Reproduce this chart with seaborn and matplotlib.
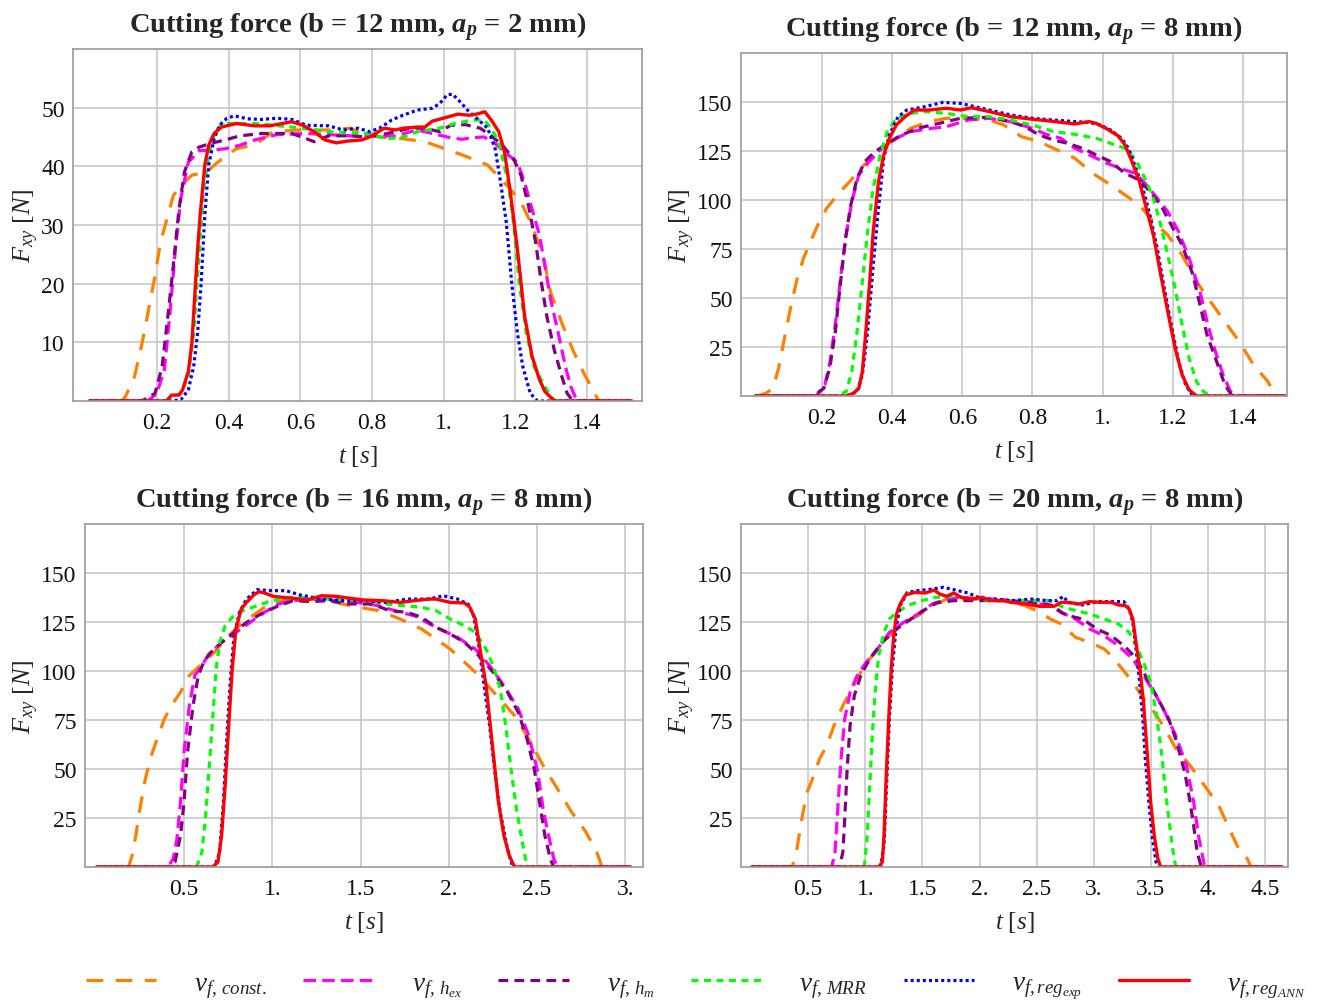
import matplotlib
matplotlib.use("Agg")
import matplotlib.pyplot as plt
import seaborn as sns
import pandas as pd

# ---------------- data: cutting force F_xy [N] vs time t [s] ----------------
# Panel 1: b = 12 mm, a_p = 2 mm
p1_const_t = [0.010, 0.101, 0.111, 0.137, 0.158, 0.178, 0.194, 0.209, 0.230, 0.245, 0.266, 0.297, 0.338, 0.369, 0.421, 0.473, 0.524, 0.596, 0.679, 0.741, 0.782, 0.824, 0.886, 0.948, 0.989, 1.040, 1.092, 1.123, 1.154, 1.185, 1.216, 1.247, 1.278, 1.299, 1.330, 1.361, 1.392, 1.417, 1.433, 1.526]
p1_const_F = [0, 0, 0.7, 4.2, 9.9, 16.2, 21.3, 27.0, 31.6, 35.0, 36.7, 38.5, 39.0, 40.7, 43.0, 43.7, 45.9, 46.2, 46.2, 46.5, 45.2, 45.0, 44.7, 44.2, 43.3, 42.2, 41.0, 40.2, 38.2, 36.2, 33.9, 29.9, 24.7, 18.5, 13.3, 8.7, 4.7, 1.9, 0, 0]
p1_hex_t = [0.010, 0.168, 0.178, 0.199, 0.220, 0.235, 0.251, 0.266, 0.287, 0.318, 0.349, 0.390, 0.431, 0.473, 0.535, 0.617, 0.679, 0.741, 0.803, 0.865, 0.927, 0.968, 1.010, 1.051, 1.082, 1.113, 1.144, 1.175, 1.206, 1.226, 1.247, 1.268, 1.283, 1.299, 1.320, 1.340, 1.355, 1.371, 1.381, 1.526]
p1_hex_F = [0, 0, 0.2, 1.3, 5.3, 14.5, 25.9, 34.5, 40.7, 42.7, 42.7, 43.0, 43.6, 44.5, 45.4, 45.6, 45.4, 45.2, 45.2, 45.2, 46.2, 45.6, 45.0, 44.6, 44.9, 45.0, 43.9, 42.2, 40.7, 37.3, 32.7, 28.2, 23.0, 17.3, 11.6, 5.9, 2.5, 0.2, 0, 0]
p1_hm_t = [0.010, 0.152, 0.163, 0.194, 0.214, 0.230, 0.245, 0.261, 0.276, 0.297, 0.318, 0.349, 0.390, 0.431, 0.493, 0.576, 0.617, 0.638, 0.679, 0.741, 0.782, 0.844, 0.906, 0.948, 0.989, 1.020, 1.061, 1.102, 1.133, 1.164, 1.195, 1.216, 1.237, 1.257, 1.273, 1.288, 1.309, 1.330, 1.345, 1.361, 1.526]
p1_hm_F = [0, 0, 0.2, 1.3, 5.9, 14.5, 23.0, 32.7, 39.0, 42.5, 43.3, 43.9, 44.5, 45.2, 45.6, 45.6, 44.7, 44.2, 45.2, 45.2, 45.0, 45.6, 46.5, 46.5, 45.9, 47.0, 47.1, 46.5, 45.2, 43.6, 41.3, 38.5, 33.3, 27.0, 20.2, 14.5, 8.7, 4.2, 1.3, 0, 0]
p1_mrr_t = [0.010, 0.225, 0.235, 0.266, 0.287, 0.302, 0.318, 0.330, 0.344, 0.359, 0.380, 0.473, 0.576, 0.679, 0.782, 0.844, 0.886, 0.927, 0.989, 1.030, 1.082, 1.113, 1.133, 1.154, 1.180, 1.195, 1.211, 1.231, 1.252, 1.278, 1.299, 1.314, 1.526]
p1_mrr_F = [0, 0, 0.7, 1.3, 4.2, 11.6, 25.9, 36.2, 41.9, 45.3, 47.3, 47.3, 46.7, 45.9, 45.6, 44.7, 45.0, 45.9, 46.5, 47.3, 47.9, 47.9, 46.5, 44.2, 37.3, 30.5, 20.2, 11.6, 5.9, 3.0, 0.7, 0, 0]
p1_exp_t = [0.010, 0.235, 0.266, 0.287, 0.302, 0.313, 0.323, 0.333, 0.344, 0.359, 0.374, 0.395, 0.416, 0.452, 0.493, 0.535, 0.576, 0.617, 0.679, 0.720, 0.762, 0.793, 0.824, 0.855, 0.886, 0.927, 0.968, 0.989, 1.010, 1.025, 1.046, 1.071, 1.092, 1.123, 1.144, 1.159, 1.175, 1.190, 1.206, 1.221, 1.242, 1.262, 1.526]
p1_exp_F = [0, 0, 0.2, 1.9, 5.9, 11.6, 20.2, 31.6, 40.2, 44.7, 47.0, 48.2, 48.6, 48.1, 48.0, 48.2, 48.0, 47.0, 46.9, 46.2, 46.5, 45.9, 46.6, 47.9, 48.7, 49.6, 49.9, 50.7, 52.2, 52.3, 51.0, 49.3, 48.2, 46.5, 43.0, 37.3, 30.5, 20.2, 11.6, 5.9, 1.3, 0, 0]
p1_ann_t = [0.010, 0.227, 0.240, 0.261, 0.271, 0.287, 0.297, 0.313, 0.320, 0.333, 0.344, 0.359, 0.380, 0.421, 0.473, 0.514, 0.576, 0.607, 0.638, 0.669, 0.700, 0.731, 0.772, 0.793, 0.834, 0.865, 0.886, 0.927, 0.948, 0.968, 0.999, 1.040, 1.071, 1.092, 1.115, 1.133, 1.154, 1.170, 1.185, 1.206, 1.226, 1.247, 1.268, 1.283, 1.309, 1.526]
p1_ann_F = [0, 0, 1.0, 1.0, 1.9, 5.0, 9.9, 25.9, 31.6, 40.2, 43.6, 45.6, 46.7, 47.3, 46.9, 46.9, 47.6, 47.0, 45.9, 44.5, 44.0, 44.3, 44.5, 45.0, 46.5, 46.2, 46.5, 46.7, 46.7, 47.7, 48.2, 48.9, 48.7, 48.9, 49.3, 47.9, 45.9, 42.5, 36.2, 25.9, 14.5, 7.6, 3.6, 1.6, 0, 0]

# Panel 2: b = 12 mm, a_p = 8 mm
p2_const_t = [0.009, 0.015, 0.040, 0.060, 0.076, 0.091, 0.106, 0.127, 0.147, 0.167, 0.188, 0.213, 0.244, 0.279, 0.310, 0.341, 0.371, 0.412, 0.453, 0.504, 0.555, 0.616, 0.677, 0.718, 0.769, 0.819, 0.860, 0.921, 0.972, 1.023, 1.064, 1.105, 1.145, 1.186, 1.227, 1.268, 1.308, 1.349, 1.390, 1.431, 1.472, 1.492, 1.522]
p2_const_F = [0, 0, 1.4, 3.9, 14.1, 27.7, 41.3, 58.3, 70.2, 78.7, 87.2, 95.7, 102.6, 109.4, 116.2, 121.3, 126.4, 131.5, 136.6, 140.0, 141.7, 141.7, 140.8, 138.3, 132.3, 129.8, 126.4, 121.3, 113.6, 107.7, 102.6, 97.4, 88.9, 82.1, 71.9, 58.3, 48.1, 37.9, 27.7, 15.8, 7.3, 0, 0]
p2_hex_t = [0.009, 0.183, 0.208, 0.223, 0.239, 0.254, 0.269, 0.285, 0.305, 0.330, 0.371, 0.412, 0.453, 0.514, 0.555, 0.616, 0.677, 0.738, 0.799, 0.840, 0.881, 0.921, 0.962, 1.013, 1.064, 1.095, 1.125, 1.156, 1.186, 1.217, 1.247, 1.278, 1.298, 1.319, 1.344, 1.365, 1.380, 1.522]
p2_hex_F = [0, 0, 5.6, 17.5, 37.9, 61.7, 82.1, 99.1, 112.8, 118.7, 126.4, 131.5, 134.9, 136.6, 137.4, 140.8, 141.7, 140.0, 136.6, 133.5, 131.5, 126.4, 123.0, 118.7, 115.3, 113.6, 107.7, 100.9, 94.0, 83.8, 70.2, 53.2, 37.9, 24.3, 10.7, 2.2, 0, 0]
p2_hm_t = [0.009, 0.177, 0.205, 0.222, 0.238, 0.253, 0.267, 0.282, 0.300, 0.322, 0.351, 0.381, 0.422, 0.473, 0.534, 0.595, 0.677, 0.738, 0.779, 0.819, 0.860, 0.901, 0.942, 0.982, 1.023, 1.064, 1.105, 1.135, 1.166, 1.196, 1.227, 1.258, 1.278, 1.298, 1.329, 1.349, 1.370, 1.522]
p2_hm_F = [0, 0, 3.9, 14.1, 32.8, 58.3, 80.4, 97.4, 111.1, 119.6, 124.7, 128.1, 132.8, 136.6, 139.1, 141.7, 142.2, 140.0, 137.4, 133.2, 130.6, 128.9, 126.4, 123.0, 119.6, 113.6, 110.2, 104.3, 97.4, 87.2, 77.0, 61.7, 46.4, 31.1, 15.8, 5.6, 0, 0]
p2_mrr_t = [0.009, 0.239, 0.269, 0.285, 0.300, 0.315, 0.330, 0.346, 0.366, 0.386, 0.412, 0.453, 0.493, 0.555, 0.616, 0.677, 0.738, 0.799, 0.860, 0.921, 0.982, 1.023, 1.064, 1.095, 1.125, 1.145, 1.166, 1.186, 1.207, 1.227, 1.247, 1.268, 1.288, 1.308, 1.522]
p2_mrr_F = [0, 0, 2.2, 12.4, 32.8, 58.3, 83.8, 106.0, 123.0, 134.9, 141.7, 144.2, 145.1, 144.2, 142.5, 142.5, 140.8, 138.3, 134.9, 133.5, 131.5, 128.9, 126.4, 120.4, 109.4, 100.9, 87.2, 71.9, 54.9, 36.2, 19.2, 7.3, 2.2, 0, 0]
p2_exp_t = [0.009, 0.269, 0.300, 0.315, 0.330, 0.346, 0.361, 0.376, 0.392, 0.417, 0.442, 0.493, 0.544, 0.595, 0.636, 0.677, 0.738, 0.799, 0.860, 0.921, 0.962, 0.993, 1.023, 1.054, 1.074, 1.095, 1.115, 1.135, 1.156, 1.176, 1.196, 1.217, 1.237, 1.258, 1.522]
p2_exp_F = [0, 0, 2.2, 10.7, 32.8, 66.8, 95.7, 121.3, 133.2, 142.5, 145.9, 147.6, 149.8, 149.3, 147.6, 145.9, 143.4, 141.7, 140.8, 140.0, 139.6, 138.3, 135.7, 131.5, 126.4, 116.2, 106.0, 92.3, 75.3, 54.9, 36.2, 17.5, 5.6, 0, 0]
p2_ann_t = [0.009, 0.269, 0.290, 0.305, 0.315, 0.325, 0.336, 0.346, 0.361, 0.376, 0.392, 0.412, 0.437, 0.463, 0.504, 0.555, 0.595, 0.626, 0.677, 0.738, 0.799, 0.850, 0.921, 0.962, 0.982, 1.013, 1.044, 1.064, 1.084, 1.105, 1.125, 1.145, 1.166, 1.186, 1.207, 1.227, 1.247, 1.268, 1.522]
p2_ann_F = [0, 0, 1.4, 3.9, 12.4, 32.8, 58.3, 83.8, 109.4, 123.0, 131.5, 138.3, 142.5, 145.9, 145.9, 146.8, 145.9, 147.1, 145.1, 142.5, 141.2, 140.3, 138.8, 140.0, 139.1, 136.2, 132.8, 128.1, 119.6, 109.4, 95.7, 82.1, 61.7, 43.0, 24.3, 10.7, 3.1, 0, 0]

# Panel 3: b = 16 mm, a_p = 8 mm
p3_const_t = [0.004, 0.186, 0.206, 0.227, 0.247, 0.277, 0.308, 0.348, 0.389, 0.429, 0.480, 0.530, 0.591, 0.672, 0.753, 0.834, 0.915, 0.996, 1.117, 1.279, 1.441, 1.603, 1.725, 1.846, 1.927, 2.008, 2.089, 2.170, 2.271, 2.372, 2.453, 2.534, 2.615, 2.696, 2.777, 2.838, 2.868, 3.030]
p3_const_F = [0, 0, 5.9, 16.1, 28.0, 43.3, 55.2, 65.4, 75.6, 82.4, 89.2, 97.7, 102.8, 109.5, 118.0, 124.8, 129.9, 135.0, 136.7, 136.7, 133.3, 130.8, 126.5, 121.4, 116.3, 111.2, 104.5, 97.7, 87.5, 77.3, 65.4, 51.8, 39.9, 28.0, 17.8, 7.6, 0, 0]
p3_hex_t = [0.004, 0.409, 0.439, 0.460, 0.480, 0.500, 0.530, 0.561, 0.601, 0.642, 0.713, 0.794, 0.874, 0.955, 1.036, 1.117, 1.239, 1.360, 1.482, 1.603, 1.725, 1.806, 1.927, 2.049, 2.150, 2.231, 2.312, 2.393, 2.453, 2.504, 2.534, 2.565, 2.595, 2.615, 3.030]
p3_hex_F = [0, 0, 4.2, 14.4, 33.1, 58.6, 82.4, 97.7, 102.8, 108.7, 114.6, 119.7, 124.8, 129.9, 134.2, 135.9, 136.7, 135.9, 135.0, 133.3, 129.9, 128.2, 122.3, 117.2, 111.2, 102.7, 92.6, 80.7, 67.1, 48.4, 29.7, 16.1, 4.2, 0, 0]
p3_hm_t = [0.004, 0.409, 0.449, 0.480, 0.500, 0.520, 0.551, 0.581, 0.611, 0.652, 0.713, 0.773, 0.854, 0.935, 1.016, 1.117, 1.219, 1.320, 1.441, 1.563, 1.664, 1.765, 1.846, 1.927, 2.008, 2.089, 2.170, 2.251, 2.332, 2.393, 2.443, 2.484, 2.514, 2.544, 2.575, 2.595, 3.030]
p3_hm_F = [0, 0, 2.5, 16.1, 33.1, 58.6, 82.4, 97.7, 104.5, 109.5, 114.6, 118.9, 124.8, 129.1, 132.5, 135.9, 135.4, 135.9, 134.2, 134.2, 130.8, 129.9, 127.4, 122.3, 118.9, 114.6, 107.8, 99.4, 89.2, 79.0, 65.4, 50.1, 33.1, 16.1, 4.2, 0, 0]
p3_mrr_t = [0.004, 0.571, 0.601, 0.621, 0.642, 0.662, 0.682, 0.702, 0.733, 0.773, 0.834, 0.915, 0.996, 1.117, 1.320, 1.522, 1.644, 1.745, 1.846, 1.927, 2.008, 2.089, 2.150, 2.211, 2.251, 2.291, 2.322, 2.352, 2.383, 2.413, 2.443, 3.030]
p3_mrr_F = [0, 0, 7.6, 24.6, 50.1, 75.6, 101.1, 114.6, 123.1, 127.4, 130.8, 133.3, 135.9, 137.6, 136.7, 135.9, 134.2, 133.3, 132.5, 130.8, 126.5, 123.1, 119.7, 111.2, 102.7, 90.9, 72.2, 50.1, 29.7, 14.4, 0, 0]
p3_exp_t = [0.004, 0.672, 0.702, 0.723, 0.743, 0.763, 0.783, 0.814, 0.854, 0.915, 0.996, 1.077, 1.158, 1.279, 1.401, 1.522, 1.644, 1.765, 1.887, 1.968, 2.049, 2.109, 2.140, 2.170, 2.200, 2.231, 2.261, 2.291, 2.332, 2.362, 3.030]
p3_exp_F = [0, 0, 7.6, 33.1, 67.1, 96.0, 118.0, 129.9, 136.7, 141.5, 141.0, 141.0, 138.8, 136.7, 135.9, 135.9, 135.0, 136.7, 136.7, 138.4, 136.7, 134.2, 128.2, 112.9, 92.6, 72.2, 48.4, 28.0, 9.3, 0, 0]
p3_ann_t = [0.004, 0.662, 0.692, 0.713, 0.733, 0.753, 0.773, 0.794, 0.824, 0.854, 0.895, 0.925, 0.955, 1.006, 1.057, 1.117, 1.198, 1.279, 1.360, 1.441, 1.522, 1.623, 1.725, 1.806, 1.887, 1.927, 2.008, 2.089, 2.119, 2.150, 2.180, 2.211, 2.231, 2.251, 2.281, 2.312, 2.342, 2.372, 3.030]
p3_ann_F = [0, 0, 2.5, 16.1, 41.6, 72.2, 101.1, 121.4, 131.6, 135.0, 138.8, 140.5, 139.8, 138.1, 137.6, 137.1, 136.2, 138.4, 138.1, 137.1, 136.2, 135.9, 135.0, 135.9, 136.7, 136.7, 135.0, 134.7, 132.5, 126.5, 109.5, 92.6, 75.6, 58.6, 33.1, 16.1, 5.9, 0, 0]

# Panel 4: b = 20 mm, a_p = 8 mm
p4_const_t = [0.005, 0.360, 0.397, 0.444, 0.491, 0.538, 0.600, 0.663, 0.726, 0.804, 0.898, 0.992, 1.086, 1.211, 1.336, 1.462, 1.587, 1.712, 1.838, 2.026, 2.214, 2.402, 2.527, 2.621, 2.715, 2.840, 2.966, 3.091, 3.154, 3.248, 3.342, 3.435, 3.529, 3.623, 3.717, 3.843, 3.968, 4.093, 4.187, 4.281, 4.344, 4.375, 4.650]
p4_const_F = [0, 0, 7.6, 24.6, 38.2, 45.0, 55.2, 62.0, 72.2, 82.4, 92.6, 102.8, 109.5, 118.0, 124.8, 128.2, 133.3, 136.7, 136.7, 136.7, 135.9, 133.3, 130.0, 126.5, 124.0, 117.2, 114.6, 111.2, 107.8, 101.1, 94.3, 85.9, 79.0, 70.6, 60.5, 51.8, 41.6, 31.4, 19.5, 7.6, 4.2, 0, 0]
p4_hex_t = [0.005, 0.694, 0.710, 0.735, 0.757, 0.788, 0.820, 0.867, 0.929, 1.008, 1.086, 1.211, 1.336, 1.462, 1.587, 1.712, 1.838, 2.026, 2.151, 2.276, 2.464, 2.590, 2.715, 2.840, 2.966, 3.091, 3.216, 3.342, 3.435, 3.529, 3.623, 3.717, 3.811, 3.874, 3.921, 3.968, 3.984, 4.650]
p4_hex_F = [0, 0, 0.9, 7.6, 28.0, 55.2, 75.6, 89.2, 97.7, 104.5, 109.5, 119.7, 124.8, 129.1, 134.2, 136.7, 137.6, 136.7, 136.7, 135.9, 134.2, 134.2, 129.9, 126.5, 121.4, 118.0, 112.9, 106.1, 97.7, 89.2, 79.0, 67.1, 51.8, 33.1, 14.4, 0.9, 0, 0]
p4_hm_t = [0.005, 0.773, 0.804, 0.820, 0.841, 0.867, 0.904, 0.961, 1.039, 1.148, 1.274, 1.399, 1.509, 1.618, 1.775, 1.900, 2.088, 2.276, 2.464, 2.652, 2.715, 2.778, 2.903, 3.028, 3.154, 3.279, 3.373, 3.467, 3.561, 3.655, 3.717, 3.796, 3.843, 3.874, 3.905, 3.937, 3.952, 4.650]
p4_hm_F = [0, 0, 7.6, 24.6, 50.1, 72.2, 87.5, 97.7, 106.3, 114.6, 121.4, 126.5, 130.8, 134.7, 135.9, 135.9, 135.9, 135.9, 135.0, 133.3, 129.9, 128.2, 126.5, 121.4, 118.0, 112.1, 106.3, 96.0, 85.9, 75.6, 65.4, 48.4, 33.1, 21.2, 7.6, 0.9, 0, 0]
p4_mrr_t = [0.005, 0.992, 1.017, 1.039, 1.061, 1.086, 1.117, 1.164, 1.211, 1.274, 1.368, 1.493, 1.618, 1.775, 1.932, 2.088, 2.276, 2.464, 2.621, 2.715, 2.840, 2.966, 3.091, 3.216, 3.310, 3.373, 3.435, 3.498, 3.545, 3.592, 3.639, 3.686, 3.717, 4.650]
p4_mrr_F = [0, 0, 16.1, 41.6, 67.1, 89.2, 107.8, 119.7, 126.5, 129.9, 133.3, 135.9, 137.6, 138.1, 137.1, 135.9, 135.9, 135.9, 135.9, 133.0, 130.8, 129.1, 126.5, 124.0, 119.7, 112.9, 104.5, 94.3, 79.0, 58.6, 33.1, 11.0, 0, 0]
p4_exp_t = [0.005, 1.133, 1.164, 1.186, 1.211, 1.236, 1.268, 1.305, 1.368, 1.462, 1.587, 1.681, 1.775, 1.900, 2.026, 2.151, 2.276, 2.464, 2.590, 2.684, 2.731, 2.778, 2.903, 3.028, 3.154, 3.263, 3.310, 3.342, 3.373, 3.404, 3.429, 3.451, 3.482, 3.514, 3.545, 3.567, 4.650]
p4_exp_F = [0, 0, 11.0, 41.6, 75.6, 101.1, 121.4, 133.3, 140.1, 141.0, 141.8, 142.7, 141.5, 139.8, 136.7, 136.7, 135.9, 136.7, 135.9, 135.9, 138.1, 135.0, 133.7, 135.4, 135.4, 135.4, 131.6, 124.8, 109.5, 92.6, 75.6, 55.2, 33.1, 14.4, 2.5, 0, 0]
p4_ann_t = [0.005, 1.117, 1.149, 1.164, 1.180, 1.205, 1.227, 1.249, 1.274, 1.305, 1.352, 1.430, 1.524, 1.603, 1.650, 1.712, 1.775, 1.838, 1.932, 2.026, 2.088, 2.214, 2.276, 2.402, 2.527, 2.652, 2.715, 2.778, 2.872, 2.966, 3.060, 3.154, 3.216, 3.279, 3.310, 3.342, 3.373, 3.404, 3.435, 3.467, 3.498, 3.529, 3.561, 3.586, 4.650]
p4_ann_F = [0, 0, 2.5, 16.1, 41.6, 75.6, 101.1, 118.0, 129.1, 134.2, 138.8, 140.1, 139.8, 141.3, 139.3, 138.1, 139.8, 137.6, 136.7, 137.6, 135.9, 135.9, 135.0, 134.2, 133.0, 133.0, 135.0, 135.0, 134.2, 135.4, 135.0, 135.0, 133.7, 133.3, 131.6, 126.5, 112.9, 101.1, 84.1, 58.6, 33.1, 16.1, 4.2, 0, 0]

# ---------------- panel settings ----------------
titles = [
    r"Cutting force (b = 12 mm, $\mathbfit{a}_{\mathbfit{p}}$ = 2 mm)",
    r"Cutting force (b = 12 mm, $\mathbfit{a}_{\mathbfit{p}}$ = 8 mm)",
    r"Cutting force (b = 16 mm, $\mathbfit{a}_{\mathbfit{p}}$ = 8 mm)",
    r"Cutting force (b = 20 mm, $\mathbfit{a}_{\mathbfit{p}}$ = 8 mm)",
]
x_ticks = [
    [0.2, 0.4, 0.6, 0.8, 1.0, 1.2, 1.4],
    [0.2, 0.4, 0.6, 0.8, 1.0, 1.2, 1.4],
    [0.5, 1.0, 1.5, 2.0, 2.5, 3.0],
    [0.5, 1.0, 1.5, 2.0, 2.5, 3.0, 3.5, 4.0, 4.5],
]
x_tick_labels = [
    ["0.2", "0.4", "0.6", "0.8", "1.", "1.2", "1.4"],
    ["0.2", "0.4", "0.6", "0.8", "1.", "1.2", "1.4"],
    ["0.5", "1.", "1.5", "2.", "2.5", "3."],
    ["0.5", "1.", "1.5", "2.", "2.5", "3.", "3.5", "4.", "4.5"],
]
y_ticks = [
    [10, 20, 30, 40, 50],
    [25, 50, 75, 100, 125, 150],
    [25, 50, 75, 100, 125, 150],
    [25, 50, 75, 100, 125, 150],
]
x_limits = [(-0.035, 1.554), (-0.031, 1.526), (-0.061, 3.10), (-0.088, 4.70)]
y_limits = [(0, 60), (0, 175), (0, 175), (0, 175)]

series_names = ["const", "hex", "hm", "mrr", "exp", "ann"]
series_labels = [
    r"$v_{f,\,const.}$",
    r"$v_{f,\,h_{ex}}$",
    r"$v_{f,\,h_m}$",
    r"$v_{f,\,MRR}$",
    r"$v_{f,reg_{exp}}$",
    r"$v_{f,reg_{ANN}}$",
]
series_colors = ["#FF8000", "#FF00FF", "#800080", "#00FF00", "#0000FF", "#FF0000"]
series_styles = [
    (0, (12, 9)),
    (0, (9, 4.5)),
    (0, (7, 4.5)),
    (0, (5, 4)),
    (0, (2.2, 2.2)),
    "-",
]
series_widths = [2.3, 2.3, 2.3, 2.3, 2.3, 2.4]

panels = []
for p in range(1, 5):
    rows = []
    for name in series_names:
        ts = globals()[f"p{p}_{name}_t"]
        fs = globals()[f"p{p}_{name}_F"]
        rows.append(pd.DataFrame({"t": ts, "F": fs, "series": name}))
    panels.append(pd.concat(rows, ignore_index=True))

# ---------------- style ----------------
sns.set_theme(style="white")
plt.rcParams["font.family"] = ["Liberation Serif", "DejaVu Serif"]
plt.rcParams["mathtext.fontset"] = "custom"
plt.rcParams["mathtext.rm"] = "Liberation Serif"
plt.rcParams["mathtext.it"] = "Liberation Serif:italic"
plt.rcParams["mathtext.bf"] = "Liberation Serif:bold"
plt.rcParams["mathtext.bfit"] = "Liberation Serif:bold:italic"
plt.rcParams["lines.scale_dashes"] = False

fig = plt.figure(figsize=(13.2, 10.03), dpi=100)
W, H = 1320.0, 1003.0
boxes_px = [(73, 50, 642, 402), (741, 54, 1287, 397), (85, 525, 643, 868), (741, 525, 1288, 868)]

handles = []
for i, (l, t, r, b) in enumerate(boxes_px):
    ax = fig.add_axes([l / W, 1 - b / H, (r - l) / W, (b - t) / H])
    df = panels[i]
    for k, name in enumerate(series_names):
        sub = df[df["series"] == name]
        sns.lineplot(data=sub, x="t", y="F", ax=ax, estimator=None, sort=False,
                     color=series_colors[k], linestyle=series_styles[k],
                     linewidth=series_widths[k], dash_capstyle="butt",
                     label=series_labels[k], legend=False)
    ax.set_xlim(*x_limits[i])
    ax.set_ylim(*y_limits[i])
    ax.set_xticks(x_ticks[i])
    ax.set_xticklabels(x_tick_labels[i])
    ax.set_yticks(y_ticks[i])
    ax.set_yticklabels([str(v) for v in y_ticks[i]])
    ax.grid(True, color="#c4c4c4", linewidth=1.1)
    ax.set_axisbelow(True)
    for s in ax.spines.values():
        s.set_color("#9a9a9a")
        s.set_linewidth(1.2)
    ax.tick_params(axis="both", direction="in", length=4, width=0.8,
                   color="#9a9a9a", labelsize=17, labelcolor="#111111")
    ax.tick_params(axis="x", pad=8)
    ax.tick_params(axis="y", pad=6)
    ax.set_xlabel(r"$t\ [s]$", fontsize=18, labelpad=7)
    ax.set_ylabel(r"$F_{xy}\ [N]$", fontsize=19, labelpad=0)
    ax.set_title(titles[i], fontsize=20.5, fontweight="bold", pad=12)
    if i == 0:
        handles = ax.get_lines()[:len(series_names)]

fig.legend(handles, series_labels, loc="center", bbox_to_anchor=(0.527, 1 - 987 / H),
           ncol=6, frameon=False, fontsize=19.5, handlelength=2.6,
           handletextpad=1.4, columnspacing=1.35)

fig.savefig("out.png", dpi=100, facecolor="white")
